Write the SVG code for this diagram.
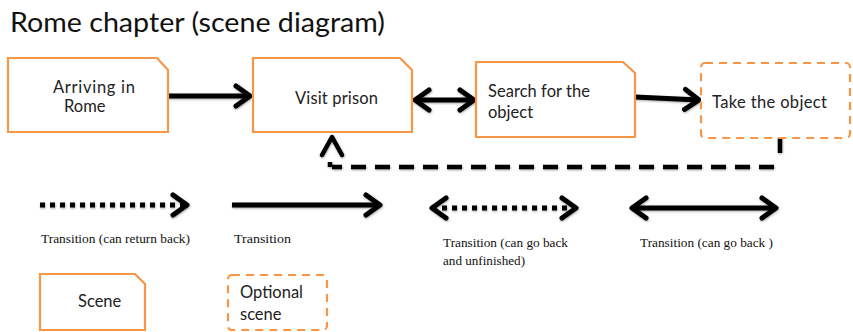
<svg xmlns="http://www.w3.org/2000/svg" width="853" height="332" viewBox="0 0 853 332">
  <style>
    .scene { fill: #ffffff; stroke: #F79646; stroke-width: 2.2; }
    .optional { fill: #ffffff; stroke: #F79646; stroke-width: 2.2; stroke-dasharray: 8 6; }
    .label { font-family: Lato, "Open Sans", sans-serif; font-size: 16.5px; fill: #222222; }
    .legend { font-family: "Liberation Serif", "Times New Roman", serif; font-size: 12px; fill: #111111; }
    .title { font-family: Lato, "Open Sans", sans-serif; font-size: 26px; fill: #111111; }
    .solid { fill: none; stroke: #000000; stroke-width: 5; }
    .dotted { fill: none; stroke: #000000; stroke-width: 5; stroke-dasharray: 5 5; }
    .dashed { fill: none; stroke: #000000; stroke-width: 4.5; stroke-dasharray: 15 9; }
  </style>
  <defs>
    <filter id="soft" filterUnits="userSpaceOnUse" x="0" y="0" width="853" height="332">
      <feDropShadow dx="0.5" dy="1" stdDeviation="1.2" flood-color="#000000" flood-opacity="0.35"/>
    </filter>
    <marker id="chev" markerUnits="userSpaceOnUse" viewBox="-20 -14 24 28" refX="0" refY="0" markerWidth="24" markerHeight="28" orient="auto-start-reverse">
      <path d="M-14,-10 L0,0 L-14,10" fill="none" stroke="#000000" stroke-width="5" stroke-linecap="round" stroke-linejoin="round"/>
    </marker>
  </defs>

  <text class="title" x="10" y="32" textLength="375" lengthAdjust="spacingAndGlyphs">Rome chapter (scene diagram)</text>

  <!-- connectors -->
  <g id="connectors" filter="url(#soft)">
    <path class="solid" d="M168,96 H250" marker-end="url(#chev)"/>
    <path class="solid" d="M415,100 H474" marker-start="url(#chev)" marker-end="url(#chev)"/>
    <path class="solid" d="M635,97 L699,100" marker-end="url(#chev)"/>
    <path class="dashed" d="M780,138 V158"/>
    <path class="dashed" d="M774,167 H332"/>
    <path class="dashed" d="M330,167 V162"/>
    <path d="M322,155 L332,137 L342,155" fill="none" stroke="#000000" stroke-width="4.5" stroke-linecap="round" stroke-linejoin="round"/>
  </g>

  <!-- scenes -->
  <g id="arriving">
    <path class="scene" d="M8,58 H157 L168,70 V132 H8 Z"/>
    <text class="label" x="53" y="93" textLength="82">Arriving  in</text>
    <text class="label" x="64" y="112">Rome</text>
  </g>
  <g id="visit-prison">
    <path class="scene" d="M253,58 H400 L412,70 V132 H253 Z"/>
    <text class="label" x="295" y="104" textLength="83">Visit prison</text>
  </g>
  <g id="search">
    <path class="scene" d="M476,62 H623 L635,73 V137 H476 Z"/>
    <text class="label" x="488" y="97" textLength="102">Search for the</text>
    <text class="label" x="488" y="118">object</text>
  </g>
  <g id="take-object">
    <rect class="optional" x="701" y="63" width="149" height="75" rx="4"/>
    <text class="label" x="712" y="108" textLength="115">Take the object</text>
  </g>

  <!-- legend -->
  <g id="legend-return" filter="url(#soft)">
    <path class="dotted" d="M40,205 H187" marker-end="url(#chev)"/>
  </g>
  <text class="legend" x="41" y="243" textLength="149" lengthAdjust="spacingAndGlyphs">Transition (can return back)</text>

  <g id="legend-transition" filter="url(#soft)">
    <path class="solid" d="M232,205 H380" marker-end="url(#chev)"/>
  </g>
  <text class="legend" x="234" y="243" textLength="57" lengthAdjust="spacingAndGlyphs">Transition</text>

  <g id="legend-unfinished" filter="url(#soft)">
    <path class="dotted" d="M432,208 H576" marker-start="url(#chev)" marker-end="url(#chev)"/>
  </g>
  <text class="legend" x="443" y="247" textLength="125" lengthAdjust="spacingAndGlyphs">Transition (can go back</text>
  <text class="legend" x="443" y="265" textLength="82" lengthAdjust="spacingAndGlyphs">and unfinished)</text>

  <g id="legend-goback" filter="url(#soft)">
    <path class="solid" d="M632,208 H776" marker-start="url(#chev)" marker-end="url(#chev)"/>
  </g>
  <text class="legend" x="640" y="247" textLength="133" lengthAdjust="spacingAndGlyphs">Transition (can go back )</text>

  <g id="legend-scene">
    <path class="scene" d="M40,274 H135 L145,284 V330 H40 Z"/>
    <text class="label" x="78" y="307">Scene</text>
  </g>
  <g id="legend-optional">
    <rect class="optional" x="228" y="275" width="99" height="55" rx="4"/>
    <text class="label" x="240" y="298">Optional</text>
    <text class="label" x="240" y="320">scene</text>
  </g>
</svg>
